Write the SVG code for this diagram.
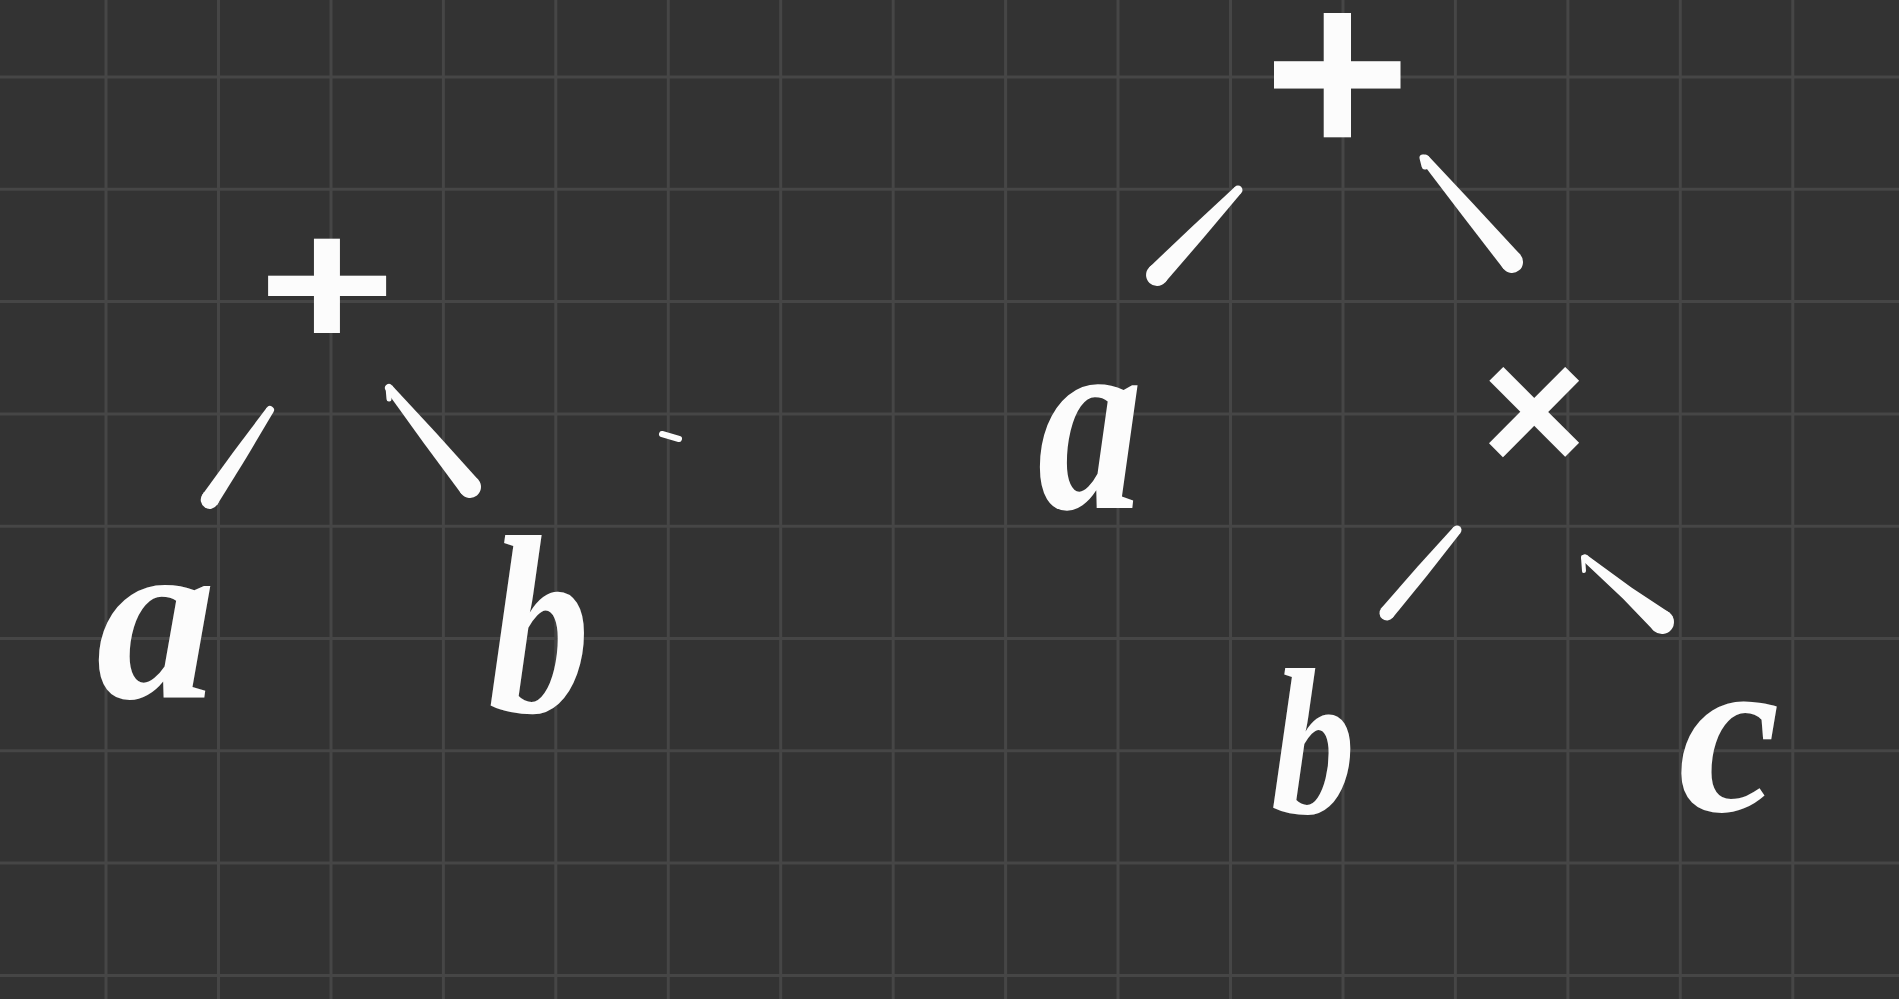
<svg xmlns="http://www.w3.org/2000/svg" width="1899" height="999" viewBox="0 0 1899 999">
<style>
.grid line{stroke:#464646;stroke-width:3}
.op{font-family:"Liberation Sans","DejaVu Sans",sans-serif;font-weight:bold;fill:#fcfcfc;text-anchor:middle}
.var{font-family:"Liberation Serif","DejaVu Serif",serif;font-style:italic;font-weight:bold;fill:#fcfcfc;text-anchor:middle}
.edge polygon,.edge circle{fill:#fcfcfc}
.edge line{stroke:#fcfcfc;fill:none;stroke-linecap:round}
</style>
<rect width="1899" height="999" fill="#333333"/>
<g class="grid">
<line x1="106" y1="0" x2="106" y2="999"/>
<line x1="218.5" y1="0" x2="218.5" y2="999"/>
<line x1="331" y1="0" x2="331" y2="999"/>
<line x1="443.4" y1="0" x2="443.4" y2="999"/>
<line x1="555.8" y1="0" x2="555.8" y2="999"/>
<line x1="668.3" y1="0" x2="668.3" y2="999"/>
<line x1="780.7" y1="0" x2="780.7" y2="999"/>
<line x1="893.2" y1="0" x2="893.2" y2="999"/>
<line x1="1005.6" y1="0" x2="1005.6" y2="999"/>
<line x1="1118" y1="0" x2="1118" y2="999"/>
<line x1="1230.5" y1="0" x2="1230.5" y2="999"/>
<line x1="1343" y1="0" x2="1343" y2="999"/>
<line x1="1455.4" y1="0" x2="1455.4" y2="999"/>
<line x1="1567.9" y1="0" x2="1567.9" y2="999"/>
<line x1="1680.3" y1="0" x2="1680.3" y2="999"/>
<line x1="1792.8" y1="0" x2="1792.8" y2="999"/>
<line x1="0" y1="77" x2="1899" y2="77"/>
<line x1="0" y1="189.3" x2="1899" y2="189.3"/>
<line x1="0" y1="301.6" x2="1899" y2="301.6"/>
<line x1="0" y1="413.9" x2="1899" y2="413.9"/>
<line x1="0" y1="526.2" x2="1899" y2="526.2"/>
<line x1="0" y1="638.5" x2="1899" y2="638.5"/>
<line x1="0" y1="750.8" x2="1899" y2="750.8"/>
<line x1="0" y1="863.1" x2="1899" y2="863.1"/>
<line x1="0" y1="975.4" x2="1899" y2="975.4"/>
</g>
<g id="connectors" class="edge">
<g id="e-plus1-a" transform="translate(270,410) rotate(123.85)"><polygon points="0,-4 54,-7 108.2,-9 108.2,9 54,7 0,4"/><circle cx="0" cy="0" r="4"/><circle cx="108.2" cy="0" r="9"/></g>
<g id="e-plus1-b"><g transform="translate(389,388) rotate(50.7)"><polygon points="0,-4 64,-8 127.9,-11 127.9,11 64,8 0,4"/><circle cx="0" cy="0" r="4"/><circle cx="127.9" cy="0" r="11"/></g><line x1="388" y1="387" x2="389" y2="399" stroke-width="5"/></g>
<g id="e-plus2-a" transform="translate(1238,190) rotate(133.6)"><polygon points="0,-4.5 58,-8 117.4,-11 117.4,11 58,8 0,4.5"/><circle cx="0" cy="0" r="4.5"/><circle cx="117.4" cy="0" r="11"/></g>
<g id="e-plus2-mul"><g transform="translate(1425,159) rotate(49.8)"><polygon points="0,-4.5 67,-8 134.8,-11 134.8,11 67,8 0,4.5"/><circle cx="0" cy="0" r="4.5"/><circle cx="134.8" cy="0" r="11"/></g><line x1="1423" y1="158" x2="1425" y2="166" stroke-width="7"/></g>
<g id="e-mul-b" transform="translate(1457,530) rotate(130.14)"><polygon points="0,-4.5 54,-6.5 108.6,-7.5 108.6,7.5 54,6.5 0,4.5"/><circle cx="0" cy="0" r="4.5"/><circle cx="108.6" cy="0" r="7.5"/></g>
<g id="e-mul-c"><g transform="translate(1585,558) rotate(39.74)"><polygon points="0,-3.5 55,-7 100.1,-12 100.1,12 55,7 0,3.5"/><circle cx="0" cy="0" r="3.5"/><circle cx="100.1" cy="0" r="12"/></g><line x1="1583" y1="557" x2="1584" y2="571" stroke-width="4"/></g>
<line x1="662" y1="434" x2="679" y2="439" stroke="#fcfcfc" stroke-width="6" stroke-linecap="round"/>
</g>
<g id="node-plus1"><text class="op" transform="translate(327,285) scale(1.12,0.88)" x="0" y="72" font-size="210">+</text></g>
<g id="node-a1"><text class="var" x="156" y="698" font-size="240">a</text></g>
<g id="node-b1"><text class="var" transform="translate(539,712) scale(0.8,1)" x="0" y="0" font-size="255">b</text></g>
<g id="node-plus2"><text class="op" transform="translate(1338,75) rotate(90)" x="0" y="84" font-size="248">+</text></g>
<g id="node-a2"><text class="var" transform="translate(1090,508) scale(0.8,1)" x="0" y="0" font-size="263">a</text></g>
<g id="node-mul"><text class="op" x="1534" y="472" font-size="180">×</text></g>
<g id="node-b2"><text class="var" transform="translate(1313,812) scale(0.81,1)" x="0" y="0" font-size="208">b</text></g>
<g id="node-c"><text class="var" x="1729" y="811" font-size="230">c</text></g>
</svg>
